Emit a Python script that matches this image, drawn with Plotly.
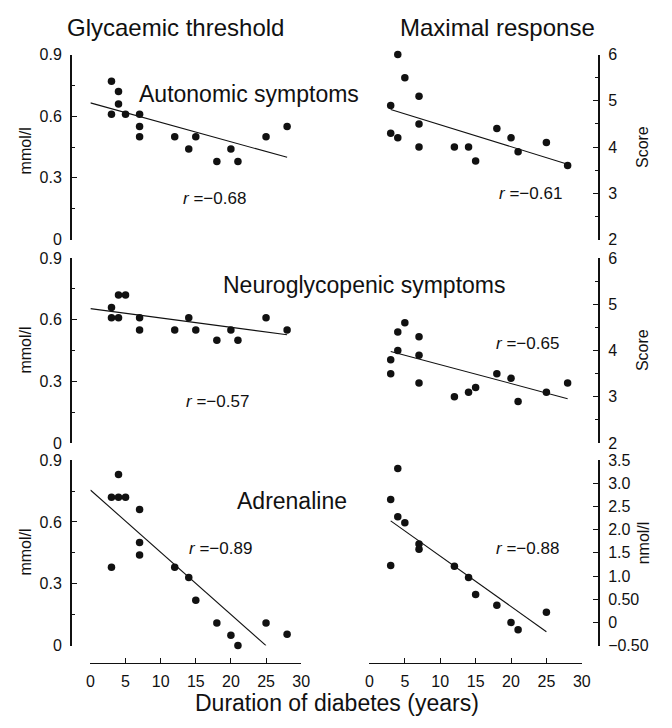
import plotly.graph_objects as go

# Page body has 8px default margins: make the figure 16px smaller so the page is 672x728.
PAGE_W, PAGE_H = 672, 728
OFF = 8
W, H = PAGE_W - 2 * OFF, PAGE_H - 2 * OFF
FONT = "Liberation Sans, Arial, sans-serif"
INK = "#111111"

# ---------------- data ----------------
# Autonomic symptoms
auto_thr_years = [3, 3, 4, 4, 5, 7, 7, 7, 12, 14, 15, 18, 20, 21, 25, 28]
auto_thr_vals = [0.77, 0.61, 0.72, 0.66, 0.61, 0.61, 0.55, 0.50, 0.50, 0.44, 0.50, 0.38, 0.44, 0.38, 0.50, 0.55]
auto_thr_fit_x = [0, 28]
auto_thr_fit_y = [0.665, 0.40]

auto_max_years = [4, 5, 7, 3, 7, 3, 4, 7, 12, 14, 15, 18, 20, 21, 25, 28]
auto_max_vals = [6.0, 5.5, 5.1, 4.9, 4.5, 4.3, 4.2, 4.0, 4.0, 4.0, 3.7, 4.4, 4.2, 3.9, 4.1, 3.6]
auto_max_fit_x = [3, 28]
auto_max_fit_y = [4.81, 3.63]

# Neuroglycopenic symptoms
neuro_thr_years = [3, 3, 4, 4, 5, 7, 7, 12, 14, 15, 18, 20, 21, 25, 28]
neuro_thr_vals = [0.66, 0.61, 0.61, 0.72, 0.72, 0.61, 0.55, 0.55, 0.61, 0.55, 0.50, 0.55, 0.50, 0.61, 0.55]
neuro_thr_fit_x = [0, 28]
neuro_thr_fit_y = [0.654, 0.527]

neuro_max_years = [4, 5, 7, 4, 3, 7, 3, 7, 12, 14, 15, 18, 20, 21, 25, 28]
neuro_max_vals = [4.4, 4.6, 4.3, 4.0, 3.8, 3.9, 3.5, 3.3, 3.0, 3.1, 3.2, 3.5, 3.4, 2.9, 3.1, 3.3]
neuro_max_fit_x = [3, 28]
neuro_max_fit_y = [3.98, 2.96]

# Adrenaline
adr_thr_years = [4, 3, 4, 5, 7, 7, 7, 3, 12, 14, 15, 18, 20, 21, 25, 28]
adr_thr_vals = [0.83, 0.72, 0.72, 0.72, 0.66, 0.50, 0.44, 0.38, 0.38, 0.33, 0.22, 0.11, 0.05, 0.0, 0.11, 0.055]
adr_thr_fit_x = [0, 25]
adr_thr_fit_y = [0.755, 0.0]

adr_max_years = [4, 3, 4, 5, 7, 7, 3, 12, 14, 15, 18, 20, 21, 25]
adr_max_vals = [3.32, 2.65, 2.28, 2.15, 1.69, 1.58, 1.23, 1.21, 0.97, 0.60, 0.37, 0.0, -0.16, 0.22]
adr_max_fit_x = [3, 25]
adr_max_fit_y = [2.19, -0.20]

r_labels = ["r =−0.68", "r =−0.61", "r =−0.57", "r =−0.65", "r =−0.89", "r =−0.88"]
r_pos_x = [17.7, 22.8, 18.1, 22.3, 18.5, 22.3]
r_pos_y = [0.20, 3.0, 0.20, 4.15, 0.47, 1.59]

col_titles = ["Glycaemic threshold", "Maximal response"]
row_labels = ["Autonomic symptoms", "Neuroglycopenic symptoms", "Adrenaline"]
x_title = "Duration of diabetes (years)"

x_ticks = [0, 5, 10, 15, 20, 25, 30]
mmol_ticks = [0, 0.3, 0.6, 0.9]
mmol_ticktext = ["0", "0.3", "0.6", "0.9"]
mmol_minor = [0.15, 0.45, 0.75]
score_ticks = [2, 3, 4, 5, 6]
score_minor = [2.5, 3.5, 4.5, 5.5]
nmol_ticks = [-0.5, 0, 0.5, 1.0, 1.5, 2.0, 2.5, 3.0, 3.5]
nmol_ticktext = ["−0.50", "0", "0.50", "1.0", "1.5", "2.0", "2.5", "3.0", "3.5"]

# ---------------- layout geometry (page pixels -> paper) ----------------
def px_x(p):
    return (p - OFF) / W

def px_y(p):
    return 1 - (p - OFF) / H

col_dom = [[px_x(88), px_x(303)], [px_x(372.7), px_x(589.3)]]
row_dom = [[px_y(237), px_y(47.5)], [px_y(445.5), px_y(256)], [px_y(653), px_y(463)]]
yaxis_pos = [px_x(68), px_x(607)]
xaxis_pos = px_y(671)

panels = [
    (auto_thr_years, auto_thr_vals, auto_thr_fit_x, auto_thr_fit_y),
    (auto_max_years, auto_max_vals, auto_max_fit_x, auto_max_fit_y),
    (neuro_thr_years, neuro_thr_vals, neuro_thr_fit_x, neuro_thr_fit_y),
    (neuro_max_years, neuro_max_vals, neuro_max_fit_x, neuro_max_fit_y),
    (adr_thr_years, adr_thr_vals, adr_thr_fit_x, adr_thr_fit_y),
    (adr_max_years, adr_max_vals, adr_max_fit_x, adr_max_fit_y),
]

fig = go.Figure()
layout = dict(
    width=W, height=H,
    margin=dict(l=0, r=0, t=0, b=0),
    paper_bgcolor="white", plot_bgcolor="white",
    showlegend=False,
    font=dict(family=FONT, color=INK, size=15),
)

annotations = []
for k, (xs, ys, fx, fy) in enumerate(panels):
    row, col = divmod(k, 2)
    idx = k + 1
    xa = "x" if idx == 1 else f"x{idx}"
    ya = "y" if idx == 1 else f"y{idx}"
    fig.add_trace(go.Scatter(x=fx, y=fy, mode="lines", xaxis=xa, yaxis=ya,
                             line=dict(color=INK, width=1.1), hoverinfo="skip"))
    fig.add_trace(go.Scatter(x=xs, y=ys, mode="markers", xaxis=xa, yaxis=ya,
                             marker=dict(color=INK, size=7.5), cliponaxis=False))

    xkey = "xaxis" if idx == 1 else f"xaxis{idx}"
    ykey = "yaxis" if idx == 1 else f"yaxis{idx}"
    layout[xkey] = dict(
        domain=col_dom[col], range=[0, 30], anchor="free", position=xaxis_pos,
        visible=(row == 2), showgrid=False, zeroline=False,
        showline=True, linecolor=INK, linewidth=1.3,
        tickvals=x_ticks, ticks="inside", ticklen=5, tickcolor=INK,
        tickfont=dict(size=16, family=FONT, color=INK), ticklabelstandoff=3,
    )
    if col == 0:
        yr = [0, 0.9]
        tv, tt, mv = mmol_ticks, mmol_ticktext, mmol_minor
    elif row < 2:
        yr = [2, 6]
        tv, tt, mv = score_ticks, [str(v) for v in score_ticks], score_minor
    else:
        yr = [-0.5, 3.5]
        tv, tt, mv = nmol_ticks, nmol_ticktext, []
    layout[ykey] = dict(
        domain=row_dom[row], range=yr, anchor="free", position=yaxis_pos[col],
        side="left" if col == 0 else "right",
        showgrid=False, zeroline=False,
        showline=True, linecolor=INK, linewidth=1.6,
        tickvals=tv, ticktext=tt, ticks="inside", ticklen=5, tickcolor=INK,
        tickfont=dict(size=16, family=FONT, color=INK), ticklabelstandoff=5,
        minor=dict(tickvals=mv, ticks="inside", ticklen=3, tickcolor=INK),
    )
    # r annotation
    txt = r_labels[k].replace("r ", "<i>r</i> ")
    annotations.append(dict(x=r_pos_x[k], y=r_pos_y[k], xref=xa, yref=ya, text=txt,
                            showarrow=False, font=dict(size=17, family=FONT, color=INK),
                            xanchor="center", yanchor="middle"))

# column titles
for text, cx in zip(col_titles, [175, 503]):
    annotations.append(dict(x=px_x(cx), y=px_y(20), xref="paper", yref="paper", text=text,
                            showarrow=False, font=dict(size=24, family=FONT, color=INK),
                            xanchor="center", yanchor="middle"))
# row labels
for text, (cx, cy) in zip(row_labels, [(250, 88), (368, 284), (294, 505)]):
    annotations.append(dict(x=px_x(cx), y=px_y(cy), xref="paper", yref="paper", text=text,
                            showarrow=False, font=dict(size=23, family=FONT, color=INK),
                            xanchor="center", yanchor="middle"))
# x title
annotations.append(dict(x=px_x(340), y=px_y(712), xref="paper", yref="paper", text=x_title,
                        showarrow=False, font=dict(size=23, family=FONT, color=INK),
                        xanchor="center", yanchor="middle"))
# y-axis titles
for text, (cx, cy) in zip(["mmol/l", "mmol/l", "mmol/l", "Score", "Score", "nmol/l"],
                          [(22, 146), (22, 350), (22, 557), (652, 142), (652, 350), (652, 548)]):
    annotations.append(dict(x=px_x(cx), y=px_y(cy), xref="paper", yref="paper", text=text,
                            showarrow=False, textangle=-90,
                            font=dict(size=16, family=FONT, color=INK),
                            xanchor="center", yanchor="middle"))

layout["annotations"] = annotations
fig.update_layout(**layout)
fig.write_html("out.html")
